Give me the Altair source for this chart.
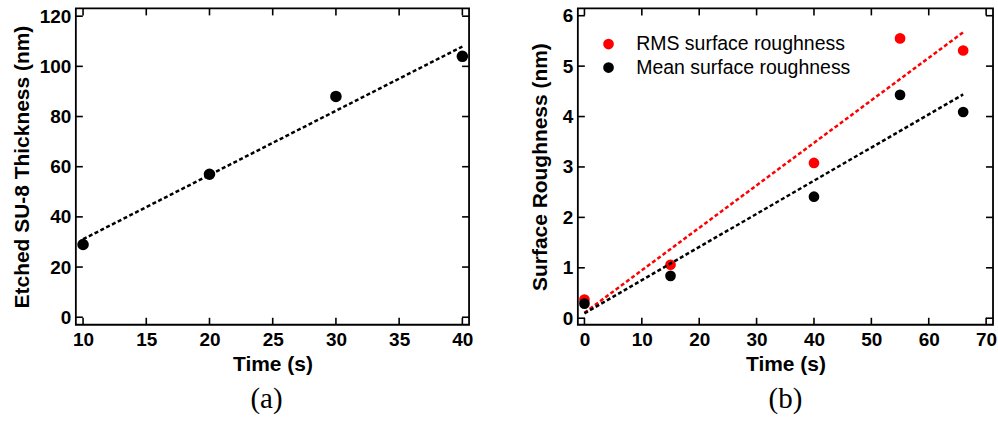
import altair as alt
import pandas as pd

# ---------------- data ----------------
# Panel (a): etched SU-8 thickness vs time
time_a = [10, 20, 30, 40]
thickness_a = [29, 57, 88, 104]

# Panel (b): surface roughness vs time
time_b = [0, 15, 40, 55, 66]
rms_b = [0.37, 1.06, 3.08, 5.55, 5.31]
mean_b = [0.29, 0.84, 2.41, 4.43, 4.09]
series_b = ["RMS surface roughness", "Mean surface roughness"]
colors_b = ["#ff0000", "#000000"]

xticks_a = [10, 15, 20, 25, 30, 35, 40]
yticks_a = [0, 20, 40, 60, 80, 100, 120]
xticks_b = [0, 10, 20, 30, 40, 50, 60, 70]
yticks_b = [0, 1, 2, 3, 4, 5, 6]

# ---------------- style ----------------
FONT = "Liberation Sans"
SERIF = "Liberation Serif"
H = 317
W_A = 394
W_B = 416
TICK = 7

df_a = pd.DataFrame({"t": time_a, "v": thickness_a})
df_b = pd.concat([
    pd.DataFrame({"t": time_b, "v": rms_b, "s": series_b[0]}),
    pd.DataFrame({"t": time_b, "v": mean_b, "s": series_b[1]}),
])


def axis(values, title, pad_title, orient):
    return alt.Axis(
        values=values, ticks=False, tickSize=0, domain=False, grid=False,
        labelFont=FONT, labelFontSize=19, labelFontWeight="bold", labelColor="black",
        labelPadding=6 if orient == "x" else 5, labelFlush=False, labelOverlap=False,
        title=title, titleFont=FONT, titleFontSize=21, titleFontWeight="bold",
        titleColor="black", titlePadding=pad_title,
    )


def tick_layers(xs, ys, xscale, yscale, W, xaxis, yaxis):
    dx = pd.DataFrame({"t": xs})
    dy = pd.DataFrame({"v": ys})
    base_x = alt.Chart(dx).mark_rule(color="black", strokeWidth=1.6)
    base_y = alt.Chart(dy).mark_rule(color="black", strokeWidth=1.6)
    X = alt.X("t:Q", scale=xscale, axis=xaxis)
    Y = alt.Y("v:Q", scale=yscale, axis=yaxis)
    return [
        base_x.encode(x=X, y=alt.value(H), y2=alt.value(H - TICK)),
        base_x.encode(x=X, y=alt.value(0), y2=alt.value(TICK)),
        base_y.encode(y=Y, x=alt.value(0), x2=alt.value(TICK)),
        base_y.encode(y=Y, x=alt.value(W), x2=alt.value(W - TICK)),
    ]


# ---------------- panel (a) ----------------
xs_a = alt.Scale(domain=[9.43, 40.53], nice=False, zero=False)
ys_a = alt.Scale(domain=[-3.0, 123.1], nice=False, zero=False)
xa_a = axis(xticks_a, "Time (s)", 4, "x")
ya_a = axis(yticks_a, "Etched SU-8 Thickness (nm)", 7, "y")

pts_a = alt.Chart(df_a).mark_circle(size=135, color="black", opacity=1).encode(
    x=alt.X("t:Q", scale=xs_a, axis=xa_a),
    y=alt.Y("v:Q", scale=ys_a, axis=ya_a),
)
fit_a = alt.Chart(df_a).transform_regression("t", "v").mark_line(
    color="black", strokeWidth=2.5, strokeDash=[4, 2.5]
).encode(
    x=alt.X("t:Q", scale=xs_a, axis=xa_a),
    y=alt.Y("v:Q", scale=ys_a, axis=ya_a),
)
panel_a = alt.layer(
    pts_a, fit_a, *tick_layers(xticks_a, yticks_a, xs_a, ys_a, W_A, xa_a, ya_a)
).properties(
    width=W_A, height=H,
    title=alt.TitleParams("(a)", orient="bottom", font=SERIF, fontSize=29,
                          fontWeight="normal", color="black", anchor="middle",
                          frame="group", dx=-6, offset=10),
)

# ---------------- panel (b) ----------------
xs_b = alt.Scale(domain=[-1.15, 71.2], nice=False, zero=False)
ys_b = alt.Scale(domain=[-0.13, 6.145], nice=False, zero=False)
xa_b = axis(xticks_b, "Time (s)", 4, "x")
ya_b = axis(yticks_b, "Surface Roughness (nm)", 12, "y")
cscale = alt.Scale(domain=series_b, range=colors_b)
col_b = alt.Color(
    "s:N",
    scale=cscale,
    sort=series_b,
    legend=alt.Legend(
        title=None, orient="none", legendX=21.0, legendY=26.0, padding=0,
        symbolType="circle", symbolSize=115, symbolStrokeWidth=0,
        labelFont=FONT, labelFontSize=19.5, labelColor="black", labelOffset=18,
        rowPadding=2.5, labelLimit=400,
    ),
)
pts_b = alt.Chart(df_b).mark_circle(size=115, opacity=1).encode(
    x=alt.X("t:Q", scale=xs_b, axis=xa_b),
    y=alt.Y("v:Q", scale=ys_b, axis=ya_b),
    color=col_b,
)
fit_b = alt.Chart(df_b).transform_regression("t", "v", groupby=["s"]).mark_line(
    strokeWidth=2.5, strokeDash=[4, 2.5]
).encode(
    x=alt.X("t:Q", scale=xs_b, axis=xa_b),
    y=alt.Y("v:Q", scale=ys_b, axis=ya_b),
    color=col_b,
)
panel_b = alt.layer(
    pts_b, fit_b, *tick_layers(xticks_b, yticks_b, xs_b, ys_b, W_B, xa_b, ya_b)
).properties(
    width=W_B, height=H,
    title=alt.TitleParams("(b)", orient="bottom", font=SERIF, fontSize=29,
                          fontWeight="normal", color="black", anchor="middle",
                          frame="group", offset=10),
)

chart = alt.hconcat(panel_a, panel_b, spacing=54).resolve_legend(
    color="independent"
).properties(
    padding={"left": 10, "top": 5, "right": 0, "bottom": 0},
    background="white",
).configure_view(stroke="black", strokeWidth=1.8)

chart.save("out.html", embed_options={"renderer": "svg", "actions": False})
